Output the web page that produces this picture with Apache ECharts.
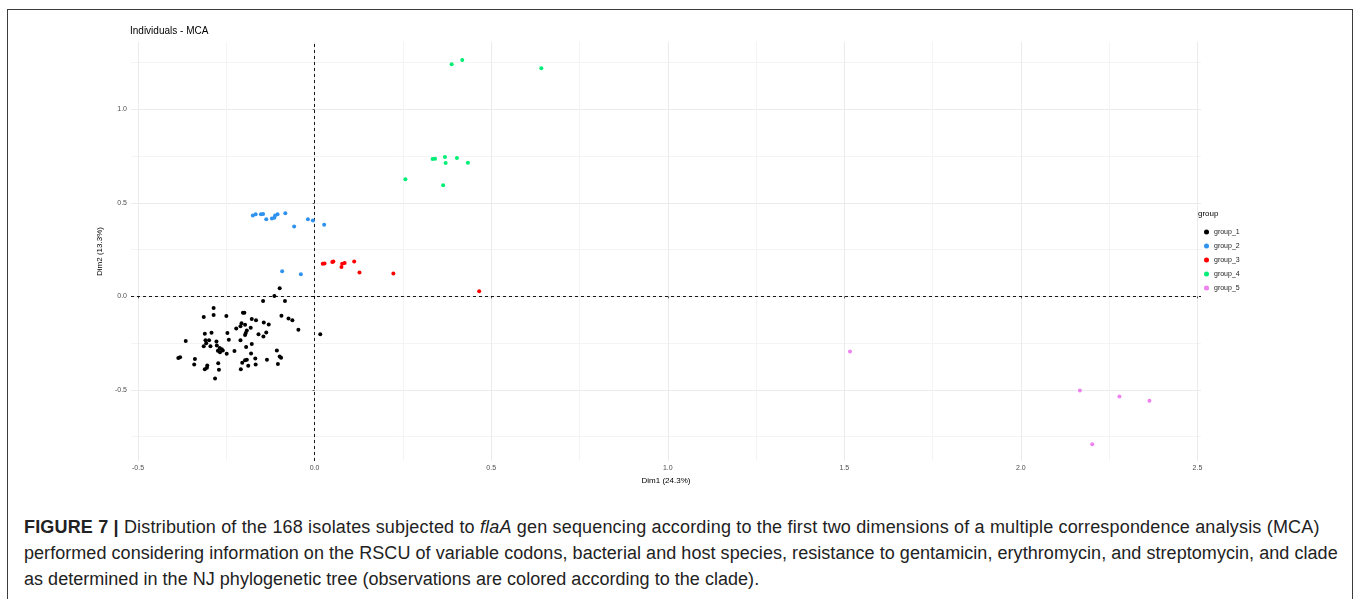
<!DOCTYPE html>
<html>
<head>
<meta charset="utf-8">
<script src="https://cdn.jsdelivr.net/npm/echarts@6/dist/echarts.min.js"></script>
<style>
  html, body { margin: 0; padding: 0; background: #fff; }
  .page { position: relative; width: 1358px; height: 599px; overflow: hidden; }
  .frame { position: absolute; left: 7px; top: 9px; width: 1346px; height: 620px; border: 1.5px solid #3c3c3c; box-sizing: border-box; }
  #chart { position: absolute; left: 0; top: 0; width: 1358px; height: 500px; }
  .caption { position: absolute; left: 24px; top: 514px; width: 1330px; white-space: nowrap; font-family: "Liberation Sans", Arial, sans-serif; font-size: 18px; line-height: 26px; color: #222; }
  .caption span { display: block; }
  .caption b { font-weight: bold; }
</style>
</head>
<body>
<div class="page">
  <div class="frame"></div>
  <div id="chart"></div>
  <div class="caption">
    <span style="letter-spacing: 0.17px"><b>FIGURE 7 |</b> Distribution of the 168 isolates subjected to <i>flaA</i> gen sequencing according to the first two dimensions of a multiple correspondence analysis (MCA)</span>
    <span style="letter-spacing: 0.05px">performed considering information on the RSCU of variable codons, bacterial and host species, resistance to gentamicin, erythromycin, and streptomycin, and clade</span>
    <span style="letter-spacing: 0.03px">as determined in the NJ phylogenetic tree (observations are colored according to the clade).</span>
  </div>
</div>
<script>
// coordinates (Dim1, Dim2)
var group1 = [
  [-0.099, 0.044], [-0.114, 0.002], [-0.146, -0.025], [-0.084, -0.025], [-0.286, -0.062],
  [-0.314, -0.110], [-0.286, -0.100], [-0.250, -0.105], [-0.203, -0.087], [-0.199, -0.087],
  [-0.094, -0.103], [-0.074, -0.118], [-0.063, -0.128], [-0.046, -0.178], [0.016, -0.203],
  [-0.178, -0.121], [-0.166, -0.128], [-0.144, -0.139], [-0.130, -0.150], [-0.207, -0.143],
  [-0.210, -0.159], [-0.197, -0.151], [-0.222, -0.171], [-0.181, -0.167], [-0.192, -0.182],
  [-0.195, -0.196], [-0.197, -0.207], [-0.137, -0.193], [-0.159, -0.203], [-0.145, -0.214],
  [-0.247, -0.196], [-0.243, -0.232], [-0.311, -0.200], [-0.292, -0.194], [-0.365, -0.239],
  [-0.309, -0.235], [-0.299, -0.235], [-0.307, -0.250], [-0.278, -0.241], [-0.314, -0.267],
  [-0.295, -0.267], [-0.277, -0.262], [-0.269, -0.276], [-0.263, -0.282], [-0.274, -0.290],
  [-0.260, -0.289], [-0.249, -0.307], [-0.268, -0.298], [-0.210, -0.234], [-0.178, -0.255],
  [-0.194, -0.271], [-0.227, -0.292], [-0.180, -0.305], [-0.107, -0.289], [-0.099, -0.321],
  [-0.095, -0.328], [-0.135, -0.339], [-0.168, -0.332], [-0.192, -0.339], [-0.197, -0.342],
  [-0.205, -0.355], [-0.188, -0.371], [-0.167, -0.364], [-0.209, -0.389], [-0.386, -0.330],
  [-0.381, -0.325], [-0.339, -0.335], [-0.341, -0.364], [-0.304, -0.369], [-0.311, -0.389],
  [-0.305, -0.381], [-0.273, -0.357], [-0.271, -0.392], [-0.282, -0.439], [-0.104, -0.362]
];
var group2 = [
  [-0.175, 0.433], [-0.167, 0.439], [-0.152, 0.439], [-0.146, 0.440], [-0.137, 0.412],
  [-0.121, 0.417], [-0.114, 0.421], [-0.112, 0.433], [-0.105, 0.439], [-0.083, 0.444],
  [-0.058, 0.374], [-0.019, 0.413], [-0.005, 0.406], [0.027, 0.383], [-0.092, 0.135],
  [-0.039, 0.118]
];
var group3 = [
  [0.023, 0.175], [0.028, 0.176], [0.050, 0.184], [0.053, 0.187], [0.076, 0.157],
  [0.078, 0.175], [0.085, 0.178], [0.112, 0.187], [0.127, 0.128], [0.223, 0.123],
  [0.466, 0.027]
];
var group4 = [
  [0.388, 1.241], [0.418, 1.264], [0.642, 1.219], [0.334, 0.734], [0.341, 0.736],
  [0.369, 0.745], [0.371, 0.713], [0.403, 0.740], [0.434, 0.715], [0.257, 0.626],
  [0.364, 0.594]
];
var group5 = [
  [1.516, -0.294], [2.167, -0.503], [2.279, -0.535], [2.364, -0.558], [2.202, -0.790]
];

var groupNames = ['group_1', 'group_2', 'group_3', 'group_4', 'group_5'];
var groupColors = ['#000000', '#2f92ee', '#ff0000', '#00ee76', '#ee82ee'];
var groupData = [group1, group2, group3, group4, group5];

var xMajor = [-0.5, 0, 0.5, 1, 1.5, 2, 2.5];
var xMinor = [-0.25, 0.25, 0.75, 1.25, 1.75, 2.25];
var yMajor = [-0.5, 0, 0.5, 1];
var yMinor = [-0.75, -0.25, 0.25, 0.75, 1.25];
var xRange = [-0.52, 2.51];
var yRange = [-0.88, 1.36];

var chart = echarts.init(document.getElementById('chart'));

var fmt = function (v) { return v.toFixed(1); };
var labelStyle = { color: '#4d4d4d', fontSize: 7, fontFamily: 'Liberation Sans, Arial, sans-serif' };

function majorAxis(name, values, range, pos) {
  var isX = pos == 'bottom';
  return {
    type: 'value', min: range[0], max: range[1], position: pos, offset: 0,
    name: name, nameLocation: 'middle', nameGap: isX ? 16 : 21,
    nameTextStyle: { color: '#000', fontSize: 8, fontFamily: 'Liberation Sans, Arial, sans-serif' },
    axisLine: { show: false },
    axisTick: { show: true, length: 2, customValues: values, lineStyle: { color: '#333', width: 0.8 } },
    axisLabel: Object.assign({ customValues: values, margin: 4, formatter: fmt }, labelStyle),
    splitLine: { show: true, lineStyle: { color: '#ebebeb', width: 1 } }
  };
}
function minorAxis(values, range, pos) {
  return {
    type: 'value', min: range[0], max: range[1], position: pos, offset: 0,
    axisLine: { show: false },
    axisTick: { show: false, customValues: values },
    axisLabel: { show: false },
    splitLine: { show: true, lineStyle: { color: '#f4f4f4', width: 1 } }
  };
}

var series = groupData.map(function (d, i) {
  return {
    name: groupNames[i], type: 'scatter', data: d,
    xAxisIndex: 1, yAxisIndex: 1,
    symbol: 'circle', symbolSize: 4,
    itemStyle: { color: groupColors[i], opacity: 1 },
    z: 5
  };
});
series[0].markLine = {
  silent: true, symbol: 'none', label: { show: false },
  lineStyle: { color: '#000', type: [3, 3], width: 0.9 },
  data: [{ xAxis: 0 }, { yAxis: 0 }]
};

var option = {
  animation: false,
  title: {
    text: 'Individuals - MCA', left: 125, top: 21,
    textStyle: { color: '#000', fontSize: 10, fontWeight: 'normal', fontFamily: 'Liberation Sans, Arial, sans-serif' }
  },
  grid: { left: 131, right: 157, top: 42, height: 419, containLabel: false },
  xAxis: [minorAxis(xMinor, xRange, 'bottom'), majorAxis('Dim1 (24.3%)', xMajor, xRange, 'bottom')],
  yAxis: [minorAxis(yMinor, yRange, 'left'), majorAxis('Dim2 (13.3%)', yMajor, yRange, 'left')],
  legend: {
    orient: 'vertical', left: 1199, top: 223,
    data: groupNames, icon: 'circle', itemWidth: 5, itemHeight: 5, itemGap: 6,
    textStyle: { color: '#222', fontSize: 7, fontFamily: 'Liberation Sans, Arial, sans-serif', lineHeight: 8 }
  },
  graphic: [{
    type: 'text', left: 1198, top: 210,
    style: { text: 'group', fill: '#000', fontSize: 8, fontFamily: 'Liberation Sans, Arial, sans-serif' }
  }],
  series: series
};
chart.setOption(option);
</script>
</body>
</html>
